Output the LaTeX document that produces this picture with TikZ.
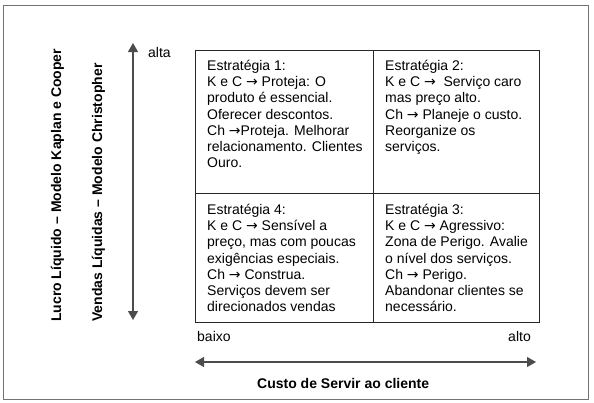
\documentclass[tikz,border=0pt]{standalone}
\usepackage{fontspec}
\setmainfont{Liberation Sans}
\newfontfamily\arrowfont{DejaVu Sans}
\newcommand\seta{{\arrowfont\fontsize{14}{14}\selectfont →}}
\usetikzlibrary{arrows.meta}

\tikzset{
  cell/.style={draw=black!85, line width=0.8pt, inner sep=0pt, anchor=north west},
  celltext/.style={anchor=north west, inner sep=0pt, align=left, font=\fontsize{14}{16.2}\selectfont},
  axislabel/.style={anchor=base west, inner sep=0pt, font=\fontsize{14}{16}\selectfont},
  title/.style={inner sep=0pt, font=\bfseries\fontsize{14}{16}\selectfont},
  axis/.style={draw=black!70, line width=1.2pt, {Triangle[length=9pt,width=10pt]}-{Triangle[length=9pt,width=10pt]}}
}

\begin{document}
\begin{tikzpicture}[x=1pt,y=-1pt]

		\useasboundingbox (0,0) rectangle (594,402);
		\draw[black!55, line width=1pt] (3,5) rectangle (588,399);

		% quadrantes
		\node[cell, minimum width=178pt, minimum height=143pt] (c1) at (195,50) {};
		\node[cell, minimum width=166pt, minimum height=143pt] (c2) at (373,50) {};
		\node[cell, minimum width=178pt, minimum height=129pt] (c4) at (195,193) {};
		\node[cell, minimum width=166pt, minimum height=129pt] (c3) at (373,193) {};

		\node[celltext] (t1) at (207,60) {Estratégia 1:\\K e C \seta{} Proteja: O\\produto é essencial.\\Oferecer descontos.\\Ch \seta{}Proteja. Melhorar\\relacionamento. Clientes\\Ouro.};
		\node[celltext] (t2) at (385,60) {Estratégia 2:\\K e C \seta\ \ Serviço caro\\mas preço alto.\\Ch \seta{} Planeje o custo.\\Reorganize os\\serviços.};
		\node[celltext] (t4) at (207,204) {Estratégia 4:\\K e C \seta{} Sensível a\\preço, mas com poucas\\exigências especiais.\\Ch \seta{} Construa.\\Serviços devem ser\\direcionados vendas};
		\node[celltext] (t3) at (385,204) {Estratégia 3:\\K e C \seta{} Agressivo:\\Zona de Perigo. Avalie\\o nível dos serviços.\\Ch \seta{} Perigo.\\Abandonar clientes se\\necessário.};

		% eixos
		\coordinate (ytop) at (133,43);
		\coordinate (ybot) at (133,320);
		\coordinate (xleft) at (195,362);
		\coordinate (xright) at (536,362);
		\draw[axis] (ytop) to (ybot);
		\draw[axis] (xleft) to (xright);

		\node[axislabel] (alta) at (148,57) {alta};
		\node[axislabel] (baixo) at (197,341) {baixo};
		\node[axislabel, anchor=base east] (alto) at (531,341) {alto};

		\node[title, anchor=base west] (custo) at (257,388) {Custo de Servir ao cliente};
		\node[title, rotate=90, anchor=base west] (lucro) at (61,322) {Lucro Líquido – Modelo Kaplan e Cooper};
		\node[title, rotate=90, anchor=base west] (vendas) at (102,322) {Vendas Líquidas – Modelo Christopher};

	\end{tikzpicture}
\end{document}
